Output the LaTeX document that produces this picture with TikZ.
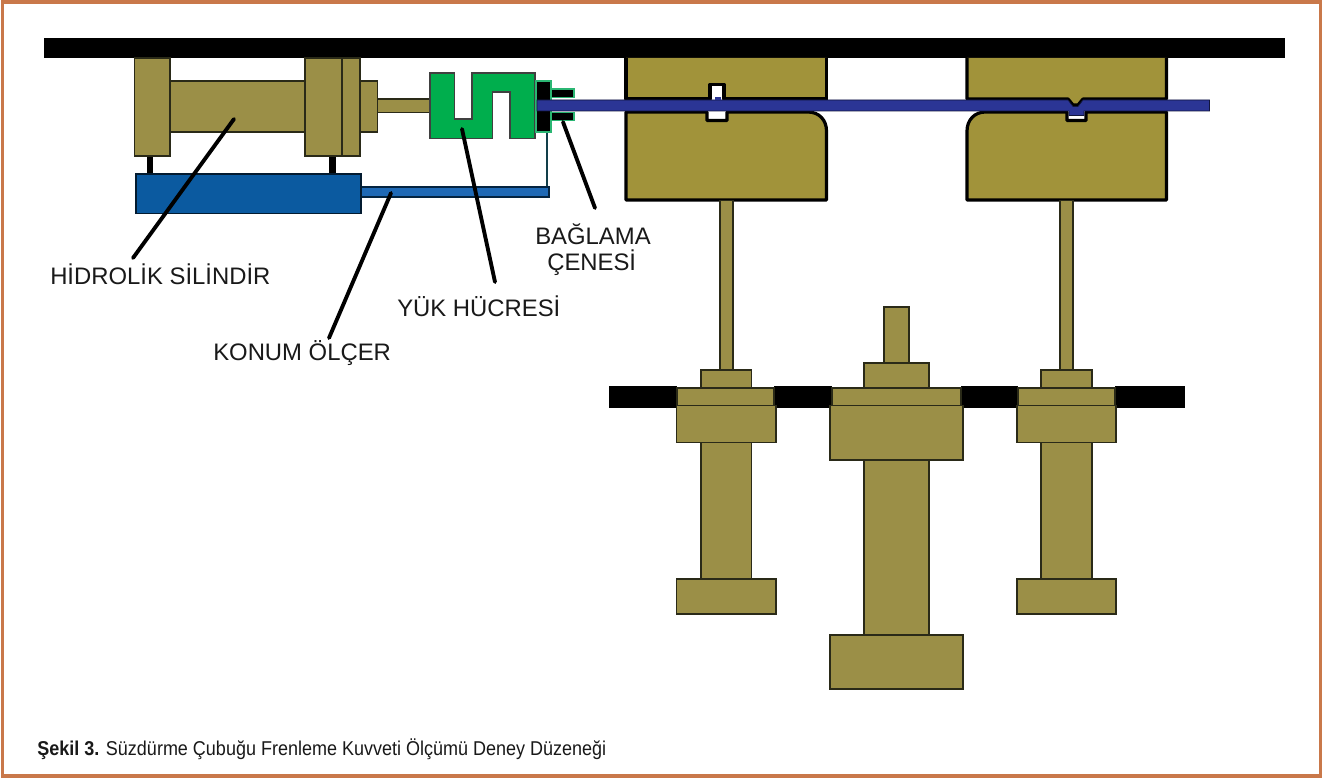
\documentclass[tikz,border=0pt]{standalone}
\usepackage{fontspec}
\setmainfont{Liberation Sans}
\newfontfamily\capfont[FakeStretch=0.9]{Liberation Sans}
\definecolor{olivea}{HTML}{9B8F47}
\definecolor{oliveb}{HTML}{A1933A}
\definecolor{edgeo}{HTML}{2A2A18}
\definecolor{bluea}{HTML}{0B5AA0}
\definecolor{blueb}{HTML}{1F69B5}
\definecolor{bluestrip}{HTML}{2B3595}
\definecolor{greena}{HTML}{00AE4D}
\definecolor{greenb}{HTML}{2BB673}
\definecolor{framec}{HTML}{C9784A}
\definecolor{tealc}{HTML}{123F4A}
\tikzset{
  part/.style={fill=olivea,draw=edgeo,line width=0.8pt},
  die/.style={fill=oliveb,draw=black,line width=2.4pt,line join=round},
  bar/.style={fill=black,draw=none},
  gauge/.style={fill=bluea,draw=black!70!bluea,line width=0.9pt},
  gaugerod/.style={fill=blueb,draw=black!60!bluea,line width=0.9pt},
  cellc/.style={fill=greena,draw=black!75,line width=0.8pt},
  jawc/.style={fill=black,draw=greenb,line width=0.9pt},
  leader/.style={draw=black,line width=2.9pt,line cap=round},
  lab/.style={anchor=base west,inner sep=0pt,font=\fontsize{17.9}{20}\selectfont,text=black!90},
}
\begin{document}
\begin{tikzpicture}[x=0.75pt,y=-0.75pt]
\useasboundingbox (0,0) rectangle (1323,780);
\fill[white] (0,0) rectangle (1323,780);
\draw[framec,line width=2.6pt] (2.5,2) rectangle (1320.5,776);

% top frame
\fill[bar] (44,38) rectangle (1285,58);

% hydraulic cylinder
\fill[bar] (146.7,156) rectangle (153.3,174);
\fill[bar] (329,156) rectangle (335.7,174);
\draw[part] (377.5,99) rectangle (431,112.6);
\draw[part] (170,81) rectangle (305,132);
\draw[part] (134.5,58) rectangle (170,156);
\draw[part] (305,58) rectangle (342,156);
\draw[part] (342,58) rectangle (360,156);
\draw[part] (360,81) rectangle (377.5,132);

% position gauge
\draw[tealc,line width=1.3pt] (547.3,132) -- (547.3,187);
\draw[gaugerod] (361,187) rectangle (549,197);
\draw[gauge] (136,174) rectangle (361,213.7);

% load cell
\draw[cellc] (430,73) -- (454.7,73) -- (454.7,119) -- (472,119) -- (472,73) -- (535,73)
  -- (535,138.7) -- (510,138.7) -- (510,92) -- (492.7,92) -- (492.7,138.7) -- (430,138.7) -- cycle;

% dies
\draw[die] (626,58) -- (626,99) -- (710,99) -- (710,84.5) -- (724,84.5) -- (724,99) -- (826.5,99) -- (826.5,58);
\draw[die] (626,112) -- (707,112) -- (707,120.5) -- (727,120.5) -- (727,112) -- (808,112)
  .. controls (819,112) and (826.5,120) .. (826.5,131) -- (826.5,200) -- (626,200) -- cycle;
\draw[die] (967,58) -- (967,99) -- (1068,99) -- (1073,105) -- (1078,105) -- (1083,99) -- (1166.5,99) -- (1166.5,58);
\draw[die] (1166.5,112) -- (1086,112) -- (1086,120.5) -- (1067,120.5) -- (1067,112) -- (985.5,112)
  .. controls (974.5,112) and (967,120) .. (967,131) -- (967,200) -- (1166.5,200) -- cycle;

% clamp jaw
\draw[jawc] (536,81) rectangle (551,132);
\draw[jawc] (551,89) rectangle (574,97.5);
\draw[jawc] (551,112.7) rectangle (574,120.7);

% drawn strip
\fill[bluestrip,draw=black!60!bluestrip,line width=0.5pt] (537,100) -- (1068,100) -- (1073,106.5) -- (1078,106.5) -- (1083,100) -- (1209.5,100)
  -- (1209.5,111) -- (1084,111) -- (1084,115.5) -- (1069,115.5) -- (1069,111) -- (537,111) -- cycle;
\fill[bluestrip] (714.5,97) rectangle (720.5,100.5);

% rods to the pistons
\draw[part] (720,200.5) rectangle (733,370);
\draw[part] (1060,200.5) rectangle (1073,370);

% lower black plate
\fill[bar] (608.5,386) rectangle (677,407.5);
\fill[bar] (774,386) rectangle (832,407.5);
\fill[bar] (961,386) rectangle (1018,407.5);
\fill[bar] (1115,386) rectangle (1185,407.5);

% left piston
\draw[part] (701,370) rectangle (751.7,388);
\draw[part] (677,388) rectangle (774,405.5);
\draw[part] (701,442.7) rectangle (751.7,579);
\draw[part] (676.7,405.5) rectangle (776,442.7);
\draw[part] (676.7,579) rectangle (776,614);

% centre piston
\draw[part] (884,307) rectangle (909,363);
\draw[part] (864,363) rectangle (929,388);
\draw[part] (832,388) rectangle (961,405.5);
\draw[part] (864,460) rectangle (929,635);
\draw[part] (830,405.5) rectangle (963,460);
\draw[part] (830,635) rectangle (963,689);

% right piston
\draw[part] (1041,370) rectangle (1092,388);
\draw[part] (1018,388) rectangle (1115,405.5);
\draw[part] (1041,442.7) rectangle (1092,579);
\draw[part] (1017,405.5) rectangle (1116,442.7);
\draw[part] (1017,579) rectangle (1116,614);

% labels
\node[lab] (silindir) at (50,285) {HİDROLİK SİLİNDİR};
\node[lab] (konum) at (213,360) {KONUM ÖLÇER};
\node[lab] (yuk) at (397,317) {YÜK HÜCRESİ};
\node[lab] (baglama) at (535,244.5) {BAĞLAMA};
\node[lab] (cene) at (547,270.5) {ÇENESİ};
\node[anchor=base west,inner sep=0pt,font=\capfont\fontsize{15}{18}\selectfont,text=black!90] (caption) at (37,755) {\textbf{Şekil 3.} Süzdürme Çubuğu Frenleme Kuvveti Ölçümü Deney Düzeneği};

% leaders
\coordinate (p1) at (234,119);
\coordinate (q1) at (133,258);
\coordinate (p2) at (391,193);
\coordinate (q2) at (329,338);
\coordinate (p3) at (462,129);
\coordinate (q3) at (495,282);
\coordinate (p4) at (563,122);
\coordinate (q4) at (595,208);
\draw[leader] (p1) -- (q1);
\draw[leader] (p2) -- (q2);
\draw[leader] (p3) -- (q3);
\draw[leader] (p4) -- (q4);
\end{tikzpicture}
\end{document}
